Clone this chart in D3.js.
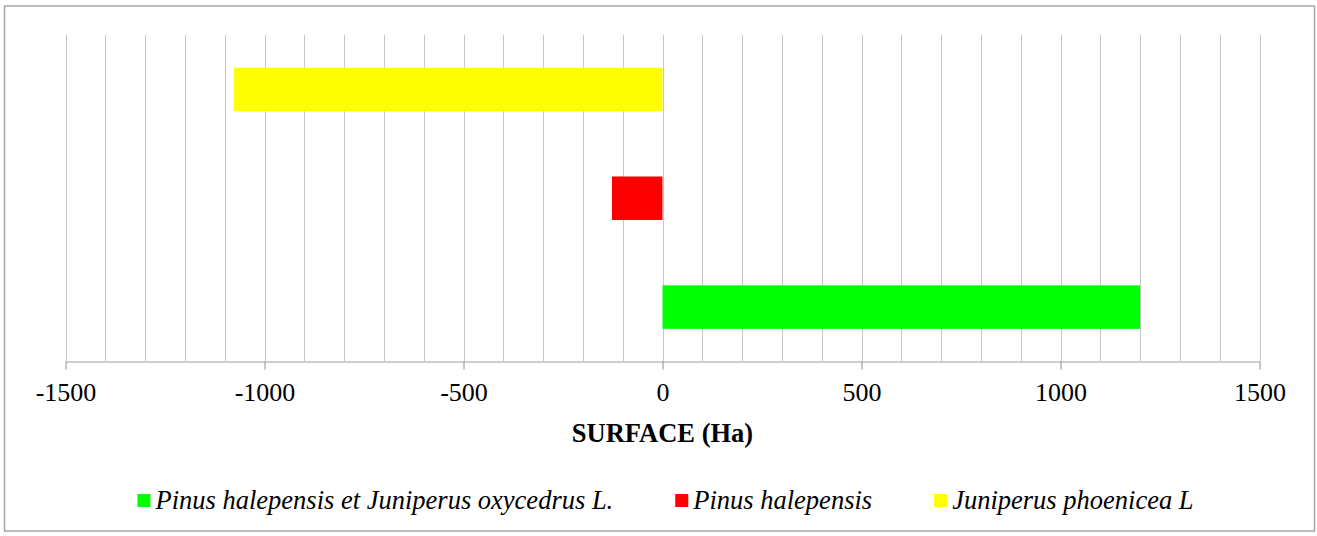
<!DOCTYPE html>
<html>
<head>
<meta charset="utf-8">
<script src="https://cdn.jsdelivr.net/npm/d3@7"></script>
<style>
  html, body { margin: 0; padding: 0; background: #fff; }
  svg { display: block; }
</style>
</head>
<body>
<svg id="chart" width="1317" height="536"></svg>
<script>
// Surface per forest formation (Ha); negative values extend left of zero
const categories = [
  "Pinus halepensis et Juniperus oxycedrus L.",
  "Pinus halepensis",
  "Juniperus phoenicea L"
];
const values = [1200, -127, -1077];
const colors = ["#00ff00", "#ff0000", "#ffff00"];
const xTicks = [-1500, -1000, -500, 0, 500, 1000, 1500];
const gridStep = 100;
const axisTitle = "SURFACE (Ha)";

const svg = d3.select("#chart");
const plot = { left: 65.5, right: 1259.5, top: 35, bottom: 361.5 };
const fontFamily = '"Liberation Serif", "Times New Roman", Tinos, serif';

// outer frame
svg.append("rect")
  .attr("x", 4.5).attr("y", 6)
  .attr("width", 1310).attr("height", 525)
  .attr("fill", "#fff")
  .attr("stroke", "#a6a6a6")
  .attr("stroke-width", 1.5);

const x = d3.scaleLinear().domain([-1500, 1500]).range([plot.left, plot.right]);

// first category sits at the bottom, as in a horizontal bar chart
const y = d3.scaleBand()
  .domain(categories.slice().reverse())
  .range([plot.top, plot.bottom])
  .paddingInner(0.6)
  .paddingOuter(0.3);

// vertical gridlines every 100 Ha
const gridVals = d3.range(-1500, 1500 + gridStep, gridStep);
svg.append("g")
  .selectAll("line")
  .data(gridVals)
  .join("line")
  .attr("x1", d => Math.round(x(d)) + 0.5)
  .attr("x2", d => Math.round(x(d)) + 0.5)
  .attr("y1", plot.top)
  .attr("y2", plot.bottom)
  .attr("stroke", "#c8c8c8")
  .attr("stroke-width", 1);

// bars
svg.append("g")
  .selectAll("rect")
  .data(categories)
  .join("rect")
  .attr("x", (d, i) => x(Math.min(0, values[i])))
  .attr("width", (d, i) => Math.abs(x(values[i]) - x(0)))
  .attr("y", d => y(d))
  .attr("height", y.bandwidth())
  .attr("fill", (d, i) => colors[i]);

// x axis
const axis = svg.append("g")
  .attr("transform", `translate(0,${plot.bottom})`)
  .call(d3.axisBottom(x)
    .tickValues(xTicks)
    .tickFormat(d => String(d))
    .tickSize(8)
    .tickSizeOuter(0));
axis.attr("font-family", fontFamily).attr("font-size", 26);
axis.select(".domain").attr("stroke", "#a0a0a0").attr("stroke-width", 1.2);
axis.selectAll(".tick line").attr("stroke", "#a0a0a0").attr("stroke-width", 1.2);
axis.selectAll(".tick text")
  .attr("fill", "#000")
  .style("font-family", fontFamily)
  .style("font-size", "26px")
  .attr("dy", null)
  .attr("y", 39.5);

// axis title
svg.append("text")
  .attr("x", x(0))
  .attr("y", 442)
  .attr("text-anchor", "middle")
  .style("font-family", fontFamily)
  .style("font-size", "26.5px")
  .style("font-weight", "bold")
  .text(axisTitle);

// legend, centred under the plot
const sq = 13, gapText = 5, gapItem = 62, legendY = 509;
const items = svg.append("g")
  .selectAll("g")
  .data(categories)
  .join("g");
items.append("rect")
  .attr("width", sq).attr("height", sq)
  .attr("y", legendY - 15)
  .attr("fill", (d, i) => colors[i]);
items.append("text")
  .attr("x", sq + gapText)
  .attr("y", legendY)
  .style("font-family", fontFamily)
  .style("font-size", "26.5px")
  .style("font-style", "italic")
  .text(d => d);

const widths = [];
items.each(function() {
  widths.push(sq + gapText + d3.select(this).select("text").node().getComputedTextLength());
});
const total = d3.sum(widths) + gapItem * (widths.length - 1);
let cursor = (plot.left + plot.right) / 2 + 3 - total / 2;
items.attr("transform", (d, i) => {
  const t = `translate(${cursor},0)`;
  cursor += widths[i] + gapItem;
  return t;
});
</script>
</body>
</html>
